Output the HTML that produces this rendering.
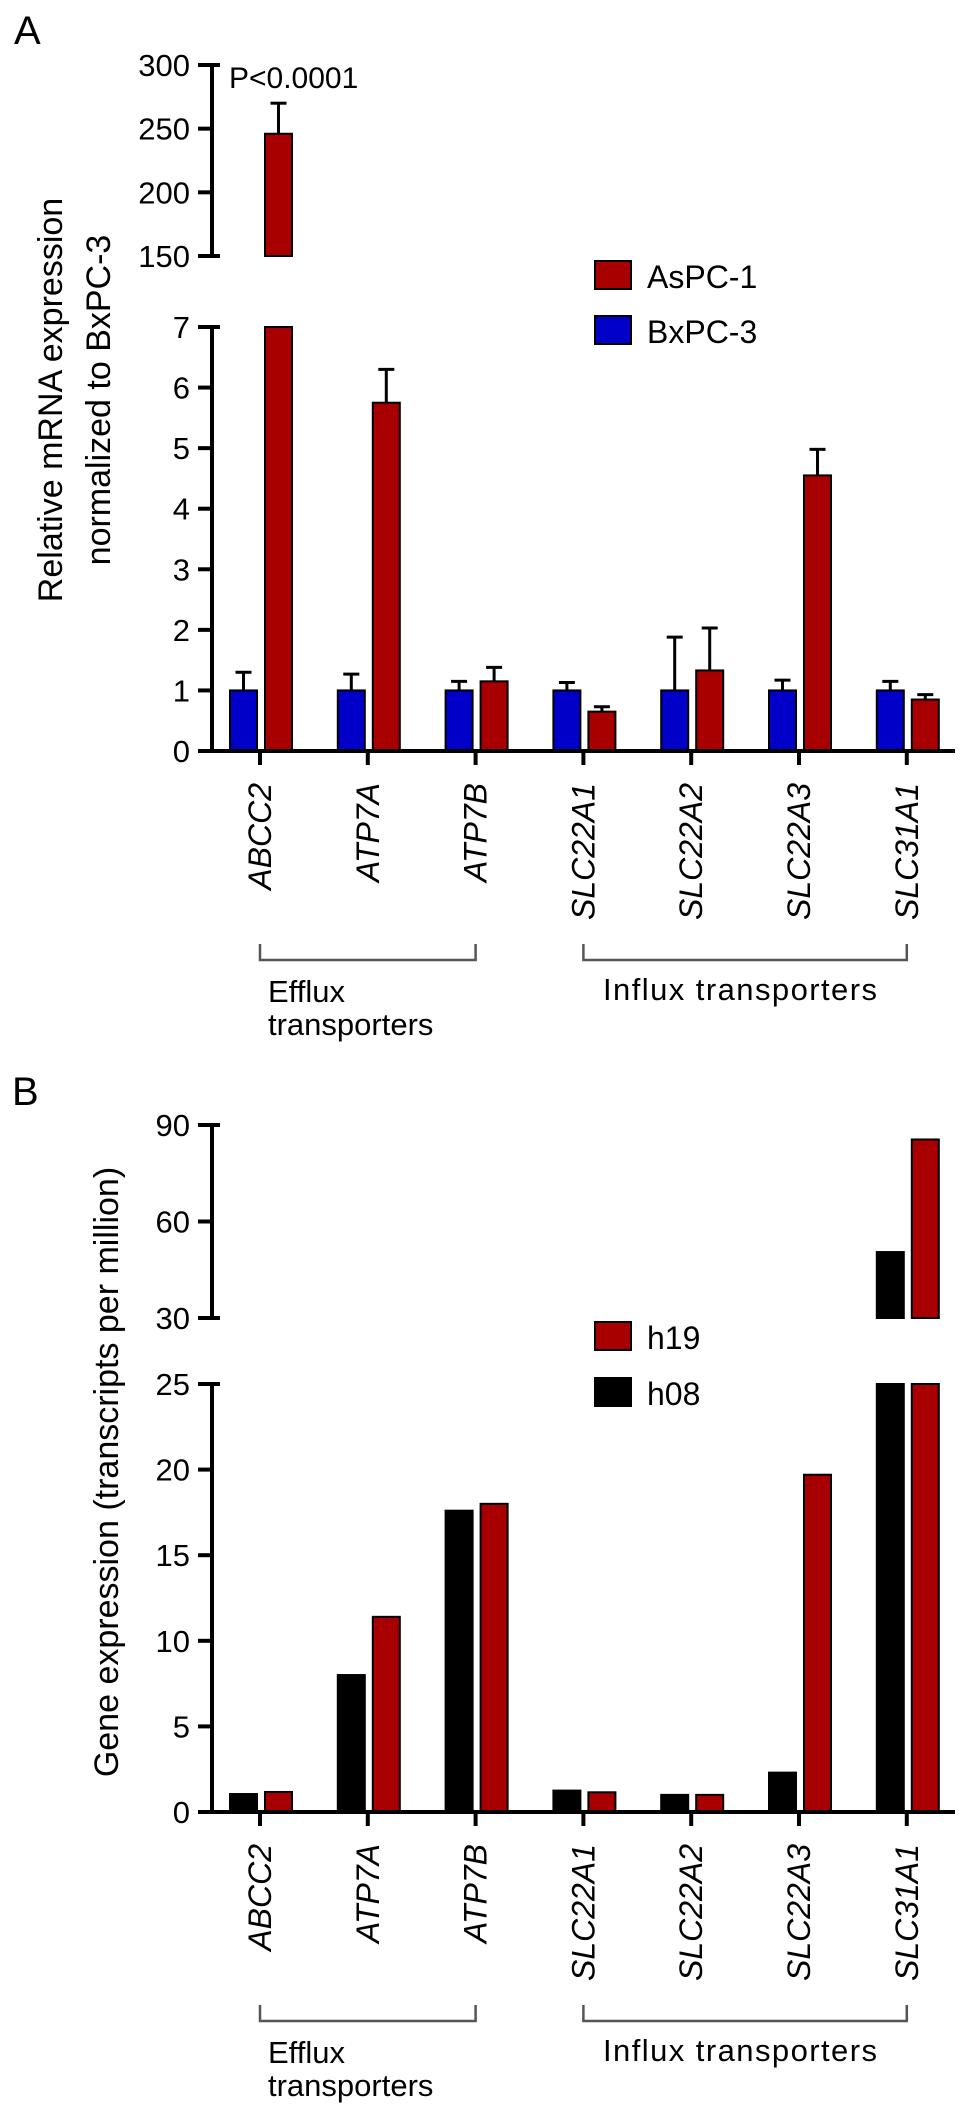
<!DOCTYPE html>
<html><head><meta charset="utf-8"><style>
html,body{margin:0;padding:0;background:#fff;}
svg{display:block;font-family:"Liberation Sans",Arial,sans-serif;}
</style></head><body>
<svg id="fig" width="969" height="2116" viewBox="0 0 969 2116" xmlns="http://www.w3.org/2000/svg">
<g id="panelA"></g>
<g id="panelB"></g>
</svg>
<script>
const categories = ["ABCC2","ATP7A","ATP7B","SLC22A1","SLC22A2","SLC22A3","SLC31A1"];
// Panel A
const bxpcValues = [1,1,1,1,1,1,1];
const bxpcErr = [1.3,1.27,1.15,1.13,1.88,1.17,1.15];
const aspcValues = [246,5.75,1.15,0.65,1.33,4.55,0.85];
const aspcErr = [270,6.3,1.38,0.73,2.03,4.98,0.93];
const aLowTicks = [0,1,2,3,4,5,6,7];
const aHighTicks = [150,200,250,300];
// Panel B
const h08Values = [1.05,8.0,17.6,1.25,1.0,2.3,50.5];
const h19Values = [1.17,11.4,18.0,1.15,1.0,19.7,85.5];
const bLowTicks = [0,5,10,15,20,25];
const bHighTicks = [30,60,90];

const NS = "http://www.w3.org/2000/svg";
function mk(parent, tag, attrs, text){
  const e = document.createElementNS(NS, tag);
  for (const k in attrs) e.setAttribute(k, attrs[k]);
  if (text !== undefined) e.textContent = text;
  parent.appendChild(e);
  return e;
}
const cx = i => 260 + i*107.8;

function drawPanel(g, cfg){
  const low = v => cfg.low0 - (v - cfg.lowMin)*(cfg.low0 - cfg.lowTop)/(cfg.lowMax - cfg.lowMin);
  const high = v => cfg.high0 - (v - cfg.highMin)*(cfg.high0 - cfg.highTop)/(cfg.highMax - cfg.highMin);
  const ax = cfg.axisX;
  cfg.series.forEach((s, si) => {
    s.values.forEach((v, i) => {
      const x0 = cx(i) + (si === 0 ? -30 : 5);
      const w = 27;
      const topLow = v > cfg.lowMax ? cfg.lowTop : low(v);
      const r = mk(g, "rect", {x:x0, y:topLow, width:w, height:cfg.low0 - topLow, fill:s.color, stroke:"#000", "stroke-width":2});
      
      
      if (v > cfg.lowMax){
        const t = high(v);
        const r2 = mk(g, "rect", {x:x0, y:t, width:w, height:cfg.high0 - t, fill:s.color, stroke:"#000", "stroke-width":2});
        
        
      }
      if (s.err){
        const e = s.err[i];
        const ey = e > cfg.lowMax ? high(e) : low(e);
        const by = v > cfg.lowMax ? high(v) : low(v);
        const mxc = x0 + w/2;
        const eg = mk(g, "g", {stroke:"#000", "stroke-width":3});
        
        
        mk(eg, "line", {x1:mxc, y1:by, x2:mxc, y2:ey});
        mk(eg, "line", {x1:mxc-8, y1:ey, x2:mxc+8, y2:ey});
      }
    });
  });
  const ya = mk(g, "g", {stroke:"#000", "stroke-width":4, fill:"none"});
  
  
  mk(ya, "line", {x1:ax, y1:cfg.lowTop, x2:ax, y2:cfg.low0+2});
  mk(ya, "line", {x1:ax, y1:cfg.highTop, x2:ax, y2:cfg.high0});
  cfg.lowTicks.forEach(t => {
    const y = low(t);
    mk(ya, "line", {x1:ax-14, y1:y, x2:ax + (t===cfg.lowMax ? 8 : 0), y2:y});
    const tl = mk(g, "text", {x:ax-22, y:y+11, "text-anchor":"end", "font-size":31, fill:"#000"}, String(t));
    
    
  });
  cfg.highTicks.forEach(t => {
    const y = high(t);
    const ext = (t===cfg.highMin || t===cfg.highMax) ? 8 : 0;
    mk(ya, "line", {x1:ax-14, y1:y, x2:ax+ext, y2:y});
    const tl = mk(g, "text", {x:ax-22, y:y+11, "text-anchor":"end", "font-size":31, fill:"#000"}, String(t));
    
    
  });
  const xa = mk(g, "g", {stroke:"#000", "stroke-width":4});
  
  
  mk(xa, "line", {x1:ax-14, y1:cfg.low0, x2:955, y2:cfg.low0});
  categories.forEach((c, i) => {
    mk(xa, "line", {x1:cx(i), y1:cfg.low0, x2:cx(i), y2:cfg.low0+14});
    const lx = cx(i) + 11, ly = cfg.low0 + 32;
    const t = mk(g, "text", {x:lx, y:ly, transform:`rotate(-90 ${lx} ${ly})`, "text-anchor":"end", "font-size":32, "font-style":"italic", fill:"#000"}, c);
    
    
  });
  const by = cfg.low0 + 209;
  const br = mk(g, "g", {stroke:"#555", "stroke-width":2.5, fill:"none"});
  
  
  mk(br, "polyline", {points:`${cx(0)},${by-16} ${cx(0)},${by} ${cx(2)},${by} ${cx(2)},${by-16}`});
  mk(br, "polyline", {points:`${cx(3)},${by-16} ${cx(3)},${by} ${cx(6)},${by} ${cx(6)},${by-16}`});
  const e1 = mk(g, "text", {x:268, y:by+42, "font-size":31, fill:"#000"}, "Efflux");
  
  
  const e2 = mk(g, "text", {x:268, y:by+75, "font-size":31, fill:"#000"}, "transporters");
  
  
  const inf = mk(g, "text", {x:603, y:by+40, "font-size":31, fill:"#000", textLength:274}, "Influx transporters");
  
  
  cfg.legend.forEach((L, k) => {
    const lg = mk(g, "g", {});
    
    
    mk(lg, "rect", {x:595, y:L.y, width:36, height:28, fill:L.color, stroke:"#000", "stroke-width":2});
    mk(lg, "text", {x:647, y:L.y+27, "font-size":32, fill:"#000"}, L.name);
  });
}

const gA = document.getElementById("panelA");
drawPanel(gA, {
  axisX:212, low0:751, lowTop:327, lowMin:0, lowMax:7,
  high0:256, highTop:65, highMin:150, highMax:300,
  lowTicks:aLowTicks, highTicks:aHighTicks,
  series:[{key:"bxpc3", values:bxpcValues, err:bxpcErr, color:"#0000c8"},
          {key:"aspc1", values:aspcValues, err:aspcErr, color:"#a80000"}],
  legend:[{name:"AsPC-1", color:"#a80000", y:261},{name:"BxPC-3", color:"#0000c8", y:316}]
});
const gB = document.getElementById("panelB");
drawPanel(gB, {
  axisX:212, low0:1812, lowTop:1384, lowMin:0, lowMax:25,
  high0:1318, highTop:1125, highMin:30, highMax:90,
  lowTicks:bLowTicks, highTicks:bHighTicks,
  series:[{key:"h08", values:h08Values, err:null, color:"#000"},
          {key:"h19", values:h19Values, err:null, color:"#a80000"}],
  legend:[{name:"h19", color:"#a80000", y:1322},{name:"h08", color:"#000", y:1378}]
});

let t;
t = mk(gA, "text", {x:14, y:44, "font-size":40, fill:"#000"}, "A");


t = mk(gA, "text", {x:229, y:88, "font-size":30, fill:"#000"}, "P<0.0001");


t = mk(gA, "text", {x:0, y:0, transform:"translate(62 400) rotate(-90)", "text-anchor":"middle", "font-size":34, fill:"#000"}, "Relative mRNA expression");


t = mk(gA, "text", {x:0, y:0, transform:"translate(110 400) rotate(-90)", "text-anchor":"middle", "font-size":34, fill:"#000"}, "normalized to BxPC-3");


t = mk(gB, "text", {x:12, y:1105, "font-size":40, fill:"#000"}, "B");


t = mk(gB, "text", {x:0, y:0, transform:"translate(118 1472) rotate(-90)", "text-anchor":"middle", "font-size":34, fill:"#000"}, "Gene expression (transcripts per million)");


</script>
</body></html>
